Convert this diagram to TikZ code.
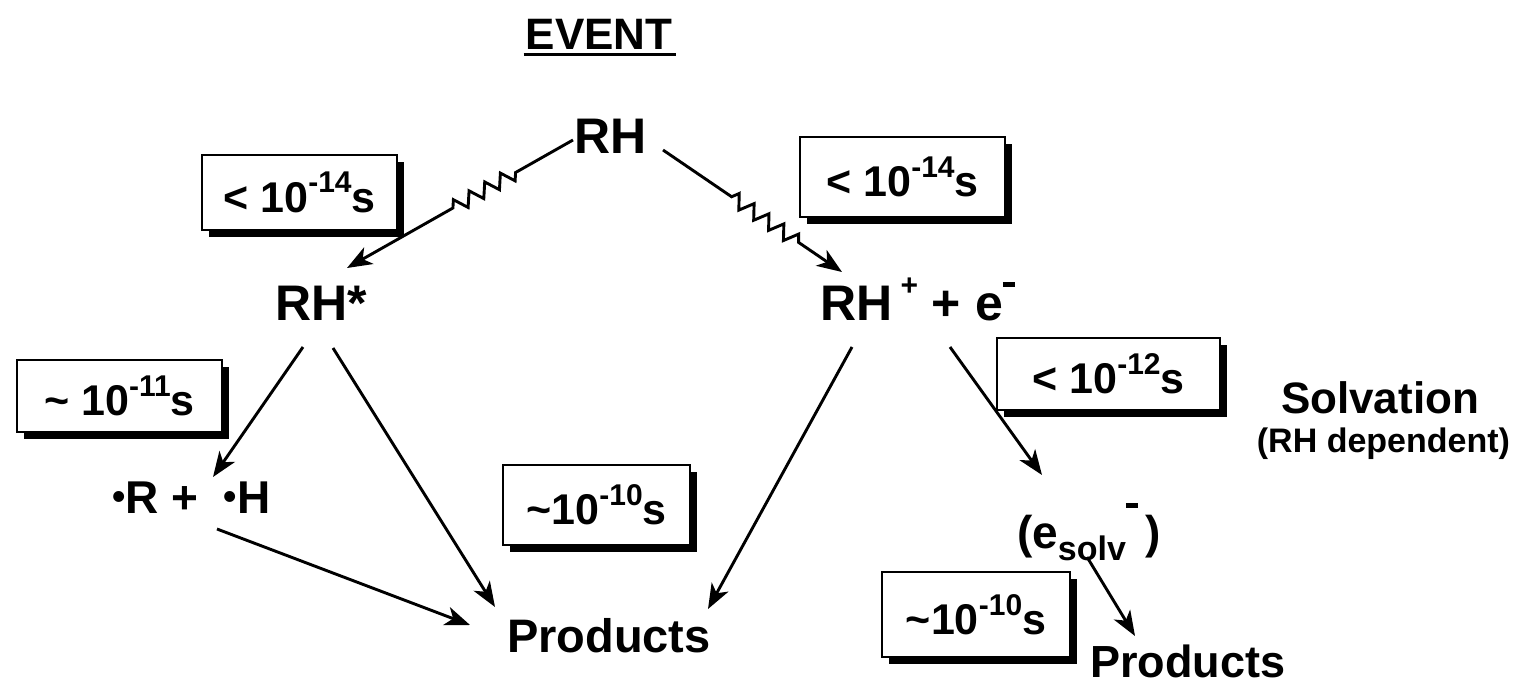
\documentclass[tikz,border=0pt]{standalone}
\usepackage{fontspec}
\setmainfont{Liberation Sans}
\usetikzlibrary{arrows.meta,shadows,decorations.pathmorphing,calc}
\newcommand{\fsz}[1]{\fontsize{#1}{#1}\selectfont}
\newcommand{\supt}[2][0.45em]{\raisebox{#1}{\fsz{30}#2}}
\newcommand{\rdot}{\raisebox{4pt}{\fsz{38}\textbullet}}
\newcommand{\minbar}[1]{\raisebox{#1}{\rule{12pt}{5pt}}}
\begin{document}
\begin{tikzpicture}[x=1pt,y=-1pt,
  every node/.style={font=\bfseries, inner sep=0pt, outer sep=0pt},
  lbl/.style={font=\bfseries\fsz{50}},
  tbox/.style={draw, line width=2.8pt, fill=white, font=\bfseries\fsz{43},
    drop shadow={shadow xshift=7pt, shadow yshift=-7pt, fill=black, opacity=1}},
  arr/.style={line width=2.9pt, -{Stealth[length=25pt,width=19pt,inset=7pt]}},
  wavy/.style 2 args={arr, decorate, decoration={zigzag, segment length=18pt,
    amplitude=7pt, pre length=#1, post length=#2}}]
\useasboundingbox (0,0) rectangle (1517,685);
\fill[white] (0,0) rectangle (1517,685);

% title
\node[font=\bfseries\fsz{44}, anchor=base] (ev) at (599,50) {EVENT};
\draw[line width=3pt] ($(ev.base west)+(-2,5)$) -- ($(ev.base east)+(4,5)$);

% species
\node[lbl, anchor=base] (RH) at (611,153) {RH};
\node[lbl, anchor=base] (RHs) at (321,320) {RH*};
\node[lbl, anchor=base west] (RHp) at (820,320) {RH\,\supt[0.5em]{+}\ + e\minbar{33pt}};
\node[font=\bfseries\fsz{46}, anchor=base west] (RdH) at (112,513) {\rdot R + \ \rdot H};
\node[font=\bfseries\fsz{47}, anchor=base west] (Pm) at (507,652) {Products};
\node[font=\bfseries\fsz{46}, anchor=base west] (es) at (1017,548)
  {(e\raisebox{-0.28em}{\fsz{34}solv}\minbar{40pt}\,)};
\node[font=\bfseries\fsz{45}, anchor=base west] (Pr) at (1090,677) {Products};
\node[font=\bfseries\fsz{44}, anchor=base] (solv) at (1380,413) {Solvation};
\node[font=\bfseries\fsz{34}, anchor=base east] (dep) at (1510,452) {(RH dependent)};

% time boxes
\node[tbox, minimum width=195pt, minimum height=75pt] (b1) at (299.5,192.5) {< 10\supt{-14}s};
\node[tbox, minimum width=205pt, minimum height=80pt] (b2) at (902.5,177) {< 10\supt{-14}s};
\node[tbox, minimum width=205pt, minimum height=72pt] (b3) at (119.5,396) {\textasciitilde\ 10\supt{-11}s};
\node[tbox, minimum width=187pt, minimum height=80pt] (b4) at (596.5,505) {\textasciitilde10\supt{-10}s};
\node[tbox, minimum width=223pt, minimum height=72pt] (b5) at (1108.5,374) {< 10\supt{-12}s};
\node[tbox, minimum width=188pt, minimum height=85pt] (b6) at (976,614.5) {\textasciitilde10\supt{-10}s};

% connectors
\draw[wavy={66pt}{118pt}] ($(RH.base)+(-38,-13)$) -- ($(RHs.base)+(26,-52)$);
\draw[wavy={83pt}{51pt}] ($(RH.base)+(52,-3)$) -- ($(RHp.base west)+(22,-48)$);
\draw[arr] ($(RHs.base)+(-18,27)$) -- ($(RdH.base west)+(101,-36)$);
\draw[arr] ($(RHs.base)+(12,28)$) -- ($(Pm.base west)+(-12,-45)$);
\draw[arr] ($(RdH.base west)+(105,16)$) -- ($(Pm.base west)+(-37,-27)$);
\draw[arr] ($(RHp.base west)+(32,27)$) -- ($(Pm.base west)+(201,-43)$);
\draw[arr] ($(RHp.base west)+(130,27)$) -- ($(es.base west)+(25,-73)$);
\draw[arr] ($(es.base west)+(70,9)$) -- ($(Pr.base west)+(45,-41)$);
\end{tikzpicture}
\end{document}
